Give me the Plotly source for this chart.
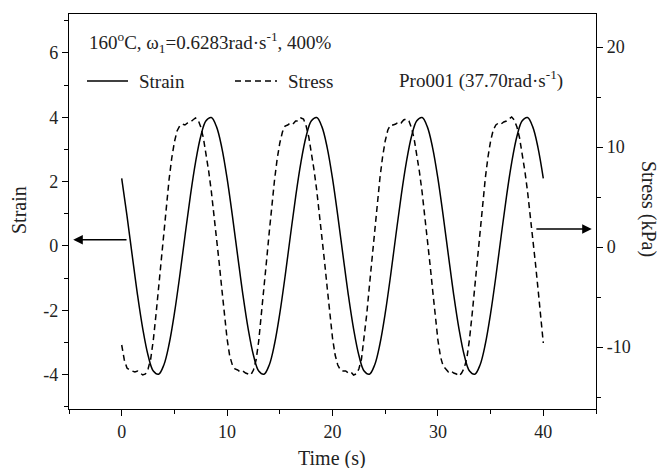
import numpy as np
import plotly.graph_objects as go

# ---------------- data ----------------
time_strain = np.arange(0, 40.001, 0.5)
strain = [
    2.10, 0.94, -0.30, -1.52, -2.58, -3.40, -3.89, -3.99, -3.70, -3.05,
    -2.10, -0.95, 0.30, 1.52, 2.59, 3.41, 3.89, 3.99, 3.70, 3.05,
    2.10, 0.94, -0.30, -1.52, -2.58, -3.40, -3.89, -3.99, -3.70, -3.05,
    -2.10, -0.95, 0.30, 1.52, 2.59, 3.41, 3.89, 3.99, 3.70, 3.05,
    2.10, 0.94, -0.30, -1.52, -2.58, -3.40, -3.89, -3.99, -3.70, -3.05,
    -2.10, -0.95, 0.30, 1.52, 2.59, 3.41, 3.89, 3.99, 3.70, 3.05,
    2.10, 0.94, -0.30, -1.52, -2.58, -3.40, -3.89, -3.99, -3.70, -3.05,
    -2.10, -0.95, 0.30, 1.52, 2.59, 3.41, 3.89, 3.99, 3.70, 3.05,
    2.10,
]

time_stress = np.arange(0, 40.001, 0.25)
stress_kpa = [
    # 0 - 9.75 s
    -9.8, -11.3, -12.1, -12.3, -12.4, -12.5, -12.4, -12.6, -12.8, -12.7,
    -12.2, -11.2, -9.3, -6.8, -4.0, -1.2, 1.6, 4.3, 6.8, 8.9,
    10.5, 11.6, 12.1, 12.3, 12.2, 12.4, 12.5, 12.7, 12.9, 12.7,
    12.0, 10.9, 9.4, 7.6, 5.6, 3.4, 0.9, -1.6, -4.2, -6.8,
    # 10 - 19.75 s
    -9.2, -10.9, -11.8, -12.2, -12.3, -12.5, -12.4, -12.6, -12.7, -12.8,
    -12.3, -11.3, -9.4, -6.9, -4.1, -1.3, 1.5, 4.2, 6.7, 8.8,
    10.4, 11.5, 12.1, 12.2, 12.4, 12.3, 12.6, 12.6, 12.9, 12.8,
    12.1, 11.0, 9.5, 7.7, 5.7, 3.5, 1.0, -1.5, -4.1, -6.7,
    # 20 - 29.75 s
    -9.1, -10.8, -11.8, -12.3, -12.4, -12.4, -12.6, -12.5, -12.8, -12.7,
    -12.2, -11.2, -9.2, -6.7, -3.9, -1.1, 1.7, 4.4, 6.9, 9.0,
    10.6, 11.7, 12.2, 12.2, 12.3, 12.5, 12.4, 12.7, 12.8, 12.6,
    11.9, 10.8, 9.3, 7.5, 5.5, 3.3, 0.8, -1.7, -4.3, -6.9,
    # 30 - 39.75 s
    -9.3, -11.0, -11.9, -12.2, -12.5, -12.4, -12.6, -12.7, -12.9, -12.6,
    -12.1, -11.1, -9.2, -6.7, -3.9, -1.1, 1.7, 4.4, 6.9, 9.0,
    10.6, 11.7, 12.2, 12.4, 12.3, 12.5, 12.6, 12.8, 13.0, 12.7,
    12.0, 10.9, 9.4, 7.6, 5.6, 3.4, 0.9, -1.6, -4.2, -6.9,
    # 40 s
    -9.6,
]

x_ticks = [0, 10, 20, 30, 40]
x_ticktext = ["0", "10", "20", "30", "40"]
strain_ticks = [-4, -2, 0, 2, 4, 6]
strain_ticktext = ["-4", "-2", "0", "2", "4", "6"]
stress_ticks = [-10, 0, 10, 20]
stress_ticktext = ["-10", "0", "10", "20"]

# ---------------- figure ----------------
FONT = "Liberation Serif"
TXT = "#222"
fig = go.Figure()
fig.add_trace(go.Scatter(x=time_strain, y=strain, mode="lines", name="Strain",
                         line=dict(color="black", width=1.5, shape="spline", smoothing=1.0),
                         yaxis="y"))
fig.add_trace(go.Scatter(x=time_stress, y=stress_kpa, mode="lines", name="Stress",
                         line=dict(color="black", width=1.5, dash="6px,4px"),
                         yaxis="y2"))

minor_style = dict(ticklen=4, ticks="outside", tickwidth=1.3, tickcolor="black")
axis_common = dict(showgrid=False, zeroline=False, showline=True, linecolor="black",
                   linewidth=1.3, ticks="outside", ticklen=6, tickwidth=1.3,
                   tickcolor="black", tickfont=dict(family=FONT, size=18, color=TXT))

# page has an 8 px body margin: figure is laid out in page coords shifted by 8 px
fig.update_layout(
    width=657, height=460,
    margin=dict(l=61, r=69, t=6, b=59),
    paper_bgcolor="white", plot_bgcolor="white",
    showlegend=False,
    font=dict(family=FONT, color=TXT),
    xaxis=dict(range=[-5, 45], tickvals=x_ticks, ticktext=x_ticktext, mirror=True,
               minor=dict(tickvals=[-5, 5, 15, 25, 35, 45], **minor_style),
               **axis_common),
    yaxis=dict(range=[-5.07, 7.21], tickvals=strain_ticks, ticktext=strain_ticktext,
               mirror=True,
               minor=dict(tickvals=[-5, -3, -1, 1, 3, 5, 7], **minor_style),
               **axis_common),
    yaxis2=dict(range=[-16.2, 23.3], tickvals=stress_ticks, ticktext=stress_ticktext,
                overlaying="y", side="right",
                minor=dict(tickvals=[-15, -5, 5, 15], **minor_style),
                **axis_common),
)

# helpers: page pixel -> paper fraction (plot area = page (69,14)-(596,409))
W, H = 527.0, 395.0
def px(X):
    return (X - 69) / W
def py(Y):
    return (409 - Y) / H

def label(text, X, Y, size=19, xanchor="left", angle=0):
    return dict(text=text, x=px(X), y=py(Y), xref="paper", yref="paper",
                xanchor=xanchor, yanchor="middle", textangle=angle, showarrow=False,
                font=dict(size=size, family=FONT, color=TXT))

ann = [
    label("Time (s)", 332, 458, size=20, xanchor="center"),
    label("Strain", 19, 210, size=20, xanchor="center", angle=-90),
    label("Stress (kPa)", 649, 209, size=20, xanchor="center", angle=90),
    label("160<sup>o</sup>C, ω<sub>1</sub>=0.6283rad·s<sup>-1</sup>, 400%", 87, 43),
    label("Strain", 137, 81),
    label("Stress", 286, 81),
    label("Pro001 (37.70rad·s<sup>-1</sup>)", 397, 79),
]
# arrows pointing at the axes
ann.append(dict(x=-4.6, y=0.19, ax=0.6, ay=0.19, xref="x", yref="y", axref="x", ayref="y",
                text="", showarrow=True, arrowhead=2, arrowsize=1.2, arrowwidth=1.6,
                arrowcolor="black", standoff=0))
ann.append(dict(x=44.6, y=1.8, ax=39.2, ay=1.8, xref="x", yref="y2", axref="x", ayref="y2",
                text="", showarrow=True, arrowhead=2, arrowsize=1.2, arrowwidth=1.6,
                arrowcolor="black", standoff=0))
fig.update_layout(annotations=ann)

# legend line samples
fig.add_shape(type="line", xref="paper", yref="paper", x0=px(87), x1=px(128),
              y0=py(81), y1=py(81), line=dict(color="black", width=1.5))
fig.add_shape(type="line", xref="paper", yref="paper", x0=px(235), x1=px(277),
              y0=py(81), y1=py(81), line=dict(color="black", width=1.5, dash="6px,4px"))

fig.write_html("out.html")
